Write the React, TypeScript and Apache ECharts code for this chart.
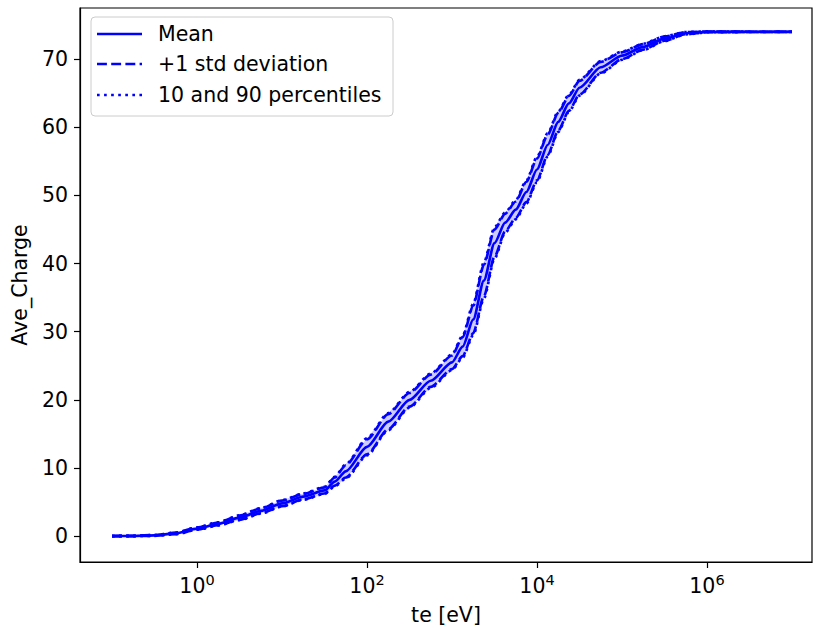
import React, { useEffect, useRef } from 'react';
import * as echarts from 'echarts';

// te [eV] sample positions
const teVals = [
  0.1, 0.178, 0.316, 0.562, 1, 1.78, 3.16, 5.62, 10, 17.8, 31.6, 41.7, 56.2,
  100, 178, 316, 562, 1000, 1334, 1778, 2371, 3162, 4217, 5623, 7499, 10000,
  13335, 17783, 23714, 31623, 56234, 100000, 177828, 316228, 562341, 1000000,
  3162278, 10000000,
];
const meanVals = [
  0, 0.02, 0.1, 0.4, 1.1, 1.8, 2.7, 3.7, 4.8, 5.8, 6.7, 8.0, 9.5, 13.1, 16.8,
  20.0, 22.8, 25.5, 27.8, 31.8, 37.5, 43.0, 46.0, 47.9, 50.5, 53.8, 57.4, 60.8,
  63.5, 65.8, 68.8, 70.5, 71.8, 73.0, 73.8, 74.0, 74.0, 74.0,
];
const stdVals = [
  0.01, 0.02, 0.05, 0.1, 0.15, 0.2, 0.3, 0.35, 0.4, 0.4, 0.45, 0.6, 0.9, 1.1,
  1.1, 1.0, 0.9, 1.0, 1.4, 2.0, 2.3, 2.0, 1.3, 1.2, 1.5, 1.6, 1.5, 1.3, 1.1,
  1.0, 0.8, 0.5, 0.4, 0.3, 0.15, 0.05, 0.02, 0.01,
];
const p10Vals = [
  -0.01, 0.0, 0.04, 0.28, 0.93, 1.57, 2.35, 3.3, 4.34, 5.34, 6.18, 7.3, 8.45,
  11.85, 15.55, 18.85, 21.75, 24.35, 26.2, 29.5, 34.85, 40.7, 44.5, 46.5, 48.8,
  51.95, 55.7, 59.3, 62.25, 64.65, 67.9, 69.9, 71.35, 72.65, 73.63, 73.94,
  73.98, 73.99,
];
const p90Vals = [
  0.01, 0.04, 0.16, 0.52, 1.27, 2.03, 3.05, 4.1, 5.26, 6.26, 7.22, 8.7, 10.55,
  14.35, 18.05, 21.15, 23.85, 26.65, 29.4, 34.1, 40.15, 45.3, 47.5, 49.3, 52.2,
  55.65, 59.1, 62.3, 64.75, 66.95, 69.7, 71.1, 72.25, 73.35, 73.97, 74.06,
  74.02, 74.01,
];
const yTicks = [0, 10, 20, 30, 40, 50, 60, 70];
const xTicks = [1, 100, 10000, 1000000];
const legendItems = ['Mean', '+1 std deviation', '10 and 90 percentiles'];

export default function App() {
  const ref = useRef<HTMLDivElement>(null);
  useEffect(() => {
    const chart = echarts.init(ref.current!, null, { renderer: 'svg' });
    const font = 'DejaVu Sans';
    const fs = 20.5;
    const blue = '#0000ff';
    const lw = 2.67;
    const dashed = [9.9, 4.3];
    const dotted = [2.67, 4.4];
    const pairs = (ys: number[]) => teVals.map((t, i) => [t, ys[i]]);
    const upperStd = meanVals.map((m, i) => m + stdVals[i]);
    const lowerStd = meanVals.map((m, i) => m - stdVals[i]);

    const lineSeries = (name: string, ys: number[], type: any) => ({
      type: 'line',
      name,
      data: pairs(ys),
      symbol: 'none',
      showSymbol: false,
      smooth: 0.25,
      smoothMonotone: 'x',
      silent: true,
      z: 3,
      lineStyle: { color: blue, width: lw, type, cap: 'butt' },
      itemStyle: { color: blue },
    });

    const legendStyles: any[] = ['solid', dashed, dotted];
    const legendRowsY = [34, 64, 95];
    const legendGraphics: any[] = [
      {
        type: 'rect',
        z: 100,
        shape: { x: 91, y: 17, width: 302, height: 99, r: 4 },
        style: { fill: 'rgba(255,255,255,0.8)', stroke: '#cccccc', lineWidth: 1 },
      },
    ];
    legendItems.forEach((label, i) => {
      const st = legendStyles[i];
      legendGraphics.push({
        type: 'line',
        z: 101,
        shape: { x1: 97, y1: legendRowsY[i], x2: 142, y2: legendRowsY[i] },
        style: {
          stroke: blue,
          lineWidth: lw,
          lineDash: st === 'solid' ? null : st,
        },
      });
      legendGraphics.push({
        type: 'text',
        z: 101,
        x: 158,
        y: legendRowsY[i],
        style: {
          text: label,
          fontFamily: font,
          fontSize: fs,
          fill: '#000',
          verticalAlign: 'middle',
          align: 'left',
        },
      });
    });

    const option: any = {
      animation: false,
      grid: {
        left: 80,
        right: 7,
        top: 8,
        bottom: 66,
        show: true,
        borderColor: '#000',
        borderWidth: 1.2,
        backgroundColor: 'transparent',
        containLabel: false,
        outerBoundsMode: 'none',
      },
      xAxis: {
        type: 'log',
        logBase: 10,
        min: 0.042,
        max: 1.72e7,
        name: 'te [eV]',
        nameLocation: 'middle',
        nameGap: 42,
        nameTextStyle: { fontFamily: font, fontSize: fs, color: '#000' },
        axisLine: { show: true, onZero: false, lineStyle: { color: '#000', width: 1.2 } },
        axisTick: {
          show: true,
          length: 6,
          customValues: xTicks,
          lineStyle: { color: '#000', width: 1.2 },
        },
        minorTick: { show: false },
        splitLine: { show: false },
        axisLabel: {
          customValues: xTicks,
          margin: 10,
          formatter: (v: number) => `{b|10}{s|${Math.round(Math.log10(v))}}`,
          rich: {
            b: { fontFamily: font, fontSize: fs, color: '#000' },
            s: { fontFamily: font, fontSize: 14.5, color: '#000', padding: [0, 0, 12, 0] },
          },
        },
      },
      yAxis: {
        type: 'value',
        min: -3.8,
        max: 77.5,
        name: 'Ave_Charge',
        nameLocation: 'middle',
        nameGap: 50,
        nameRotate: 90,
        nameTextStyle: { fontFamily: font, fontSize: fs, color: '#000' },
        axisLine: { show: true, onZero: false, lineStyle: { color: '#000', width: 1.2 } },
        axisTick: {
          show: true,
          length: 6,
          customValues: yTicks,
          lineStyle: { color: '#000', width: 1.2 },
        },
        splitLine: { show: false },
        axisLabel: {
          customValues: yTicks,
          margin: 12,
          fontFamily: font,
          fontSize: fs,
          color: '#000',
        },
      },
      graphic: legendGraphics,
      series: [
        {
          type: 'custom',
          coordinateSystem: 'cartesian2d',
          silent: true,
          z: 1,
          clip: true,
          data: [[teVals[0], p10Vals[0]]],
          renderItem: (params: any, api: any) => {
            const up = teVals.map((t, i) => api.coord([t, p90Vals[i]]));
            const lo = teVals.map((t, i) => api.coord([t, p10Vals[i]])).reverse();
            return {
              type: 'polygon',
              shape: { points: up.concat(lo), smooth: 0.2 },
              style: { fill: 'rgba(0,0,255,0.2)', stroke: 'none' },
            };
          },
        },
        lineSeries('Mean', meanVals, 'solid'),
        lineSeries('+1 std deviation', upperStd, dashed),
        lineSeries('+1 std deviation', lowerStd, dashed),
        lineSeries('10 and 90 percentiles', p90Vals, dotted),
        lineSeries('10 and 90 percentiles', p10Vals, dotted),
      ],
    };
    chart.setOption(option);
    return () => chart.dispose();
  }, []);
  return (
    <div
      ref={ref}
      style={{ position: 'absolute', left: 0, top: 0, width: 819, height: 628, background: '#fff' }}
    />
  );
}
